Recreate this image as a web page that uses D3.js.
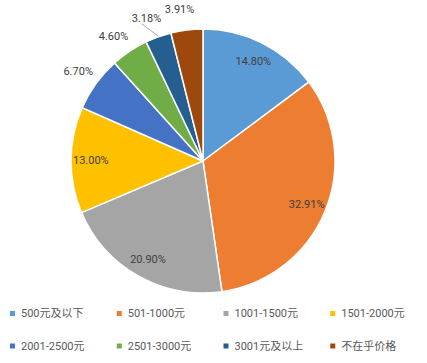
<!DOCTYPE html>
<html>
<head>
<meta charset="utf-8">
<script src="https://cdn.jsdelivr.net/npm/d3@7"></script>
<style>
  body { margin: 0; background: #fff; }
  svg text { font-family: Roboto, "Noto Sans CJK SC", sans-serif; }
</style>
</head>
<body>
<div id="chart"></div>
<script>
// chart data
var categories = ["500元及以下", "501-1000元", "1001-1500元", "1501-2000元",
                  "2001-2500元", "2501-3000元", "3001元及以上", "不在乎价格"];
var values = [14.80, 32.91, 20.90, 13.00, 6.70, 4.60, 3.18, 3.91];
var colors = ["#5B9BD5", "#ED7D31", "#A5A5A5", "#FFC000",
              "#4472C4", "#70AD47", "#255E91", "#9E480E"];

var width = 427, height = 363;
var cx = 203, cy = 161, r = 132;

var svg = d3.select("#chart").append("svg")
  .attr("width", width)
  .attr("height", height);

var pie = d3.pie().sort(null).value(function(d) { return d.value; });
var arcs = pie(categories.map(function(c, i) {
  return { name: c, value: values[i], color: colors[i] };
}));

var arc = d3.arc().innerRadius(0).outerRadius(r);

var g = svg.append("g").attr("transform", "translate(" + cx + "," + cy + ")");

g.selectAll("path.slice")
  .data(arcs)
  .enter().append("path")
  .attr("class", "slice")
  .attr("d", arc)
  .attr("fill", function(d) { return d.data.color; })
  .attr("stroke", "#fff")
  .attr("stroke-width", 1.5);

// big slices get labels inside, small ones outside
function labelPos(d) {
  var a = (d.startAngle + d.endAngle) / 2;
  var big = d.data.value >= 10;
  var rr = big ? r * 0.85 : r + 22;
  if (d.data.value < 5) {
    // nudge the tiny ones like excel's best fit
    a -= 0.03;
  }
  return [Math.sin(a) * rr, -Math.cos(a) * rr];
}

// leader for the one label that drifts off
arcs.forEach(function(d) {
  if (d.data.value > 3 && d.data.value < 3.5) {
    var a = (d.startAngle + d.endAngle) / 2;
    var p = labelPos(d);
    g.append("line")
      .attr("x1", Math.sin(a) * (r + 1)).attr("y1", -Math.cos(a) * (r + 1))
      .attr("x2", p[0] - 5).attr("y2", p[1] + 6)
      .attr("stroke", "#a6a6a6").attr("stroke-width", 1);
  }
});

g.selectAll("text.lbl")
  .data(arcs)
  .enter().append("text")
  .attr("class", "lbl")
  .attr("x", function(d) { return labelPos(d)[0]; })
  .attr("y", function(d) { return labelPos(d)[1]; })
  .attr("dy", "0.35em")
  .attr("text-anchor", "middle")
  .attr("font-size", 11)
  .attr("fill", "#404040")
  .text(function(d) { return d3.format(".2f")(d.data.value) + "%"; });

// legend
var colX = d3.scaleBand().domain([0, 1, 2, 3]).range([10, 437]);
var rowY = d3.scalePoint().domain([0, 1]).range([313.5, 346]);

var leg = svg.selectAll("g.leg")
  .data(categories)
  .enter().append("g")
  .attr("class", "leg")
  .attr("transform", function(d, i) {
    return "translate(" + colX(i % 4) + "," + rowY(Math.floor(i / 4)) + ")";
  });

leg.append("rect")
  .attr("x", 0).attr("y", -2.5)
  .attr("width", 5).attr("height", 5)
  .attr("fill", function(d, i) { return colors[i]; });

leg.append("text")
  .attr("x", 11).attr("y", 0)
  .attr("dy", "0.35em")
  .attr("font-size", 11)
  .attr("fill", "#595959")
  .text(function(d) { return d; });
</script>
</body>
</html>
